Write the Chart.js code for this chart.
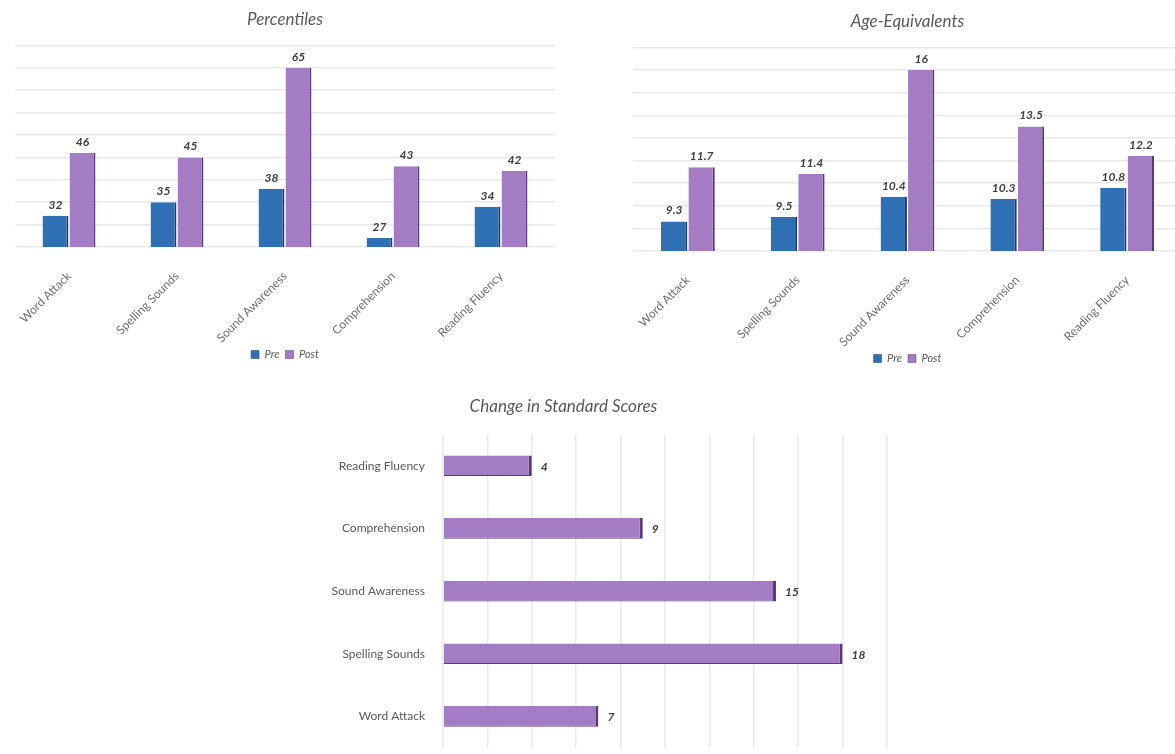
<!DOCTYPE html>
<html>
<head>
<meta charset="utf-8">
<script src="https://cdn.jsdelivr.net/npm/chart.js@4"></script>
<style>
  html, body { margin: 0; padding: 0; background: #fff; width: 1175px; height: 754px; overflow: hidden; position: relative; }
  .box { position: absolute; }
  #percBox { left: 0; top: 0; width: 570px; height: 372px; }
  #ageBox { left: 620px; top: 0; width: 580px; height: 376px; }
  #changeBox { left: 240px; top: 385px; width: 654px; height: 380px; }
</style>
</head>
<body>
<div class="box" id="percBox"><canvas id="percChart"></canvas></div>
<div class="box" id="ageBox"><canvas id="ageChart"></canvas></div>
<div class="box" id="changeBox"><canvas id="changeChart"></canvas></div>
<script>
// data
const categories = ['Word Attack', 'Spelling Sounds', 'Sound Awareness', 'Comprehension', 'Reading Fluency'];
const percentilePre = [32, 35, 38, 27, 34];
const percentilePost = [46, 45, 65, 43, 42];
const agePre = [9.3, 9.5, 10.4, 10.3, 10.8];
const agePost = [11.7, 11.4, 16, 13.5, 12.2];
const standardChange = [7, 18, 15, 9, 4];

const FONT = 'Lato, "Open Sans", sans-serif';
const PRE_COLOR = '#2f6fb3';
const PRE_EDGE = '#1c3c68';
const POST_COLOR = '#a47cc4';
const POST_EDGE = '#5a3b78';
const GRID = '#e9e9e9';

// draws the value next to each bar
const valueLabels = {
    id: 'valueLabels',
    afterDatasetsDraw(chart) {
        const ctx = chart.ctx;
        const horizontal = chart.options.indexAxis === 'y';
        ctx.save();
        ctx.font = 'italic bold 12px ' + FONT;
        ctx.fillStyle = '#404040';
        chart.data.datasets.forEach((ds, i) => {
            chart.getDatasetMeta(i).data.forEach((bar, j) => {
                const text = String(ds.data[j]);
                if (horizontal) {
                    ctx.textAlign = 'left';
                    ctx.textBaseline = 'middle';
                    ctx.fillText(text, bar.x + 9, bar.y + 1);
                } else {
                    ctx.textAlign = 'center';
                    ctx.textBaseline = 'bottom';
                    ctx.fillText(text, bar.x, bar.y - 5);
                }
            });
        });
        ctx.restore();
    }
};

function columnChart(id, title, pre, post, yMin, yMax, yStep, padding) {
    new Chart(document.getElementById(id), {
        type: 'bar',
        data: {
            labels: categories,
            datasets: [{
                label: 'Pre',
                data: pre,
                backgroundColor: PRE_COLOR,
                borderColor: PRE_EDGE,
                borderWidth: { top: 0, right: 2, bottom: 0, left: 0 },
                borderSkipped: false,
                categoryPercentage: 0.5,
                barPercentage: 0.96
            }, {
                label: 'Post',
                data: post,
                backgroundColor: POST_COLOR,
                borderColor: POST_EDGE,
                borderWidth: { top: 0, right: 2, bottom: 0, left: 0 },
                borderSkipped: false,
                categoryPercentage: 0.5,
                barPercentage: 0.96
            }]
        },
        options: {
            responsive: true,
            maintainAspectRatio: false,
            animation: false,
            layout: { padding: padding },
            plugins: {
                title: {
                    display: true,
                    text: title,
                    color: '#595959',
                    font: { family: FONT, size: 17, style: 'italic', weight: 'normal' },
                    padding: { top: 5, bottom: 16 }
                },
                legend: {
                    position: 'bottom',
                    labels: {
                        boxWidth: 8,
                        boxHeight: 8,
                        padding: 6,
                        color: '#595959',
                        font: { family: FONT, size: 11, style: 'italic' }
                    }
                },
                tooltip: { enabled: false }
            },
            scales: {
                x: {
                    grid: { display: false },
                    border: { display: false },
                    ticks: {
                        color: '#6e6e6e',
                        font: { family: FONT, size: 12 },
                        minRotation: 45,
                        maxRotation: 45,
                        padding: 14
                    },
                    afterFit(scale) { scale.height = 96; }
                },
                y: {
                    min: yMin,
                    max: yMax,
                    ticks: { display: false, stepSize: yStep },
                    grid: { color: GRID, lineWidth: 1.5, drawTicks: false },
                    border: { display: false }
                }
            }
        },
        plugins: [valueLabels]
    });
}

columnChart('percChart', 'Percentiles', percentilePre, percentilePost, 25, 70, 5,
    { left: 15, right: 15, top: 4, bottom: 2 });
columnChart('ageChart', 'Age-Equivalents', agePre, agePost, 8, 17, 1,
    { left: 13, right: 18, top: 6, bottom: 2 });

new Chart(document.getElementById('changeChart'), {
    type: 'bar',
    data: {
        labels: categories,
        datasets: [{
            label: 'Change',
            data: standardChange,
            backgroundColor: POST_COLOR,
            borderColor: POST_EDGE,
            borderWidth: { top: 0, right: 3, bottom: 1, left: 0 },
            borderSkipped: false,
            categoryPercentage: 1,
            barPercentage: 0.33
        }]
    },
    options: {
        indexAxis: 'y',
        responsive: true,
        maintainAspectRatio: false,
        animation: false,
        layout: { padding: { left: 0, right: 7, top: 0, bottom: 9 } },
        plugins: {
            title: {
                display: true,
                text: 'Change in Standard Scores',
                color: '#595959',
                font: { family: FONT, size: 17, style: 'italic', weight: 'normal' },
                padding: { top: 11, bottom: 18 }
            },
            legend: { display: false },
            tooltip: { enabled: false }
        },
        scales: {
            x: {
                min: 0,
                max: 20,
                ticks: { display: false, stepSize: 2 },
                grid: { color: GRID, lineWidth: 1.5, drawTicks: false },
                border: { display: false }
            },
            y: {
                reverse: true,
                grid: { display: false },
                border: { display: false },
                ticks: {
                    color: '#595959',
                    font: { family: FONT, size: 12 },
                    padding: 10
                },
                afterFit(scale) { scale.width = 203; }
            }
        }
    },
    plugins: [valueLabels]
});
</script>
</body>
</html>
